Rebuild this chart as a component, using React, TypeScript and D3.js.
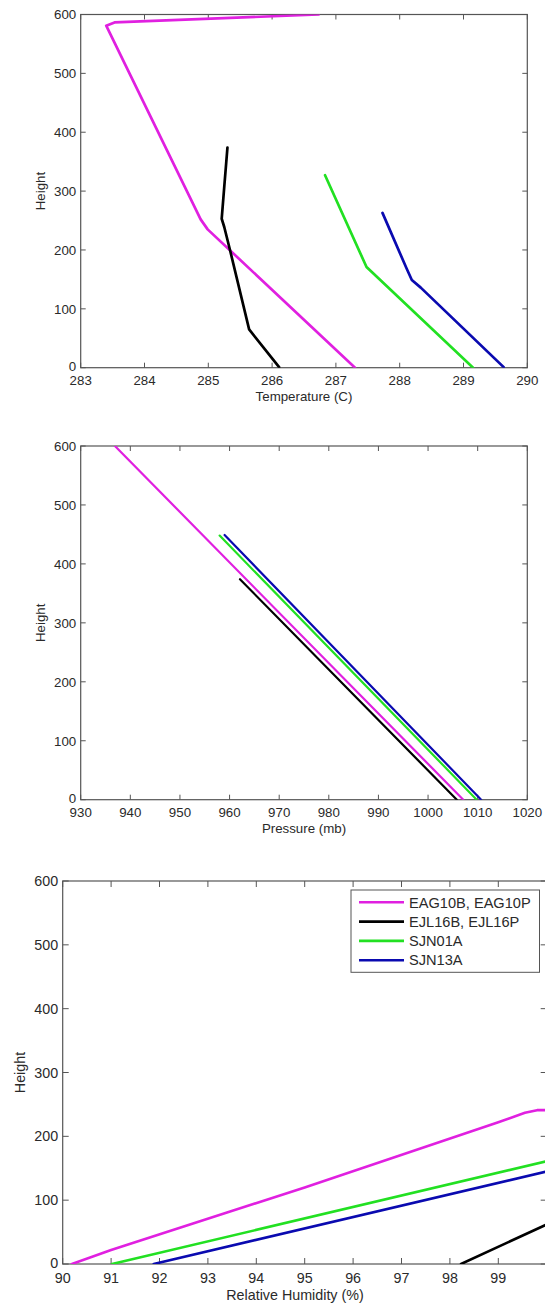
import React from "react";
import * as d3 from "d3";

// ---------- data ----------
const seriesNames = ["EAG10B, EAG10P", "EJL16B, EJL16P", "SJN01A", "SJN13A"];
const seriesColors = ["#e020e0", "#000000", "#22e022", "#0a0ab0"];

const heightTicks = [0, 100, 200, 300, 400, 500, 600];
const tempTicks = [283, 284, 285, 286, 287, 288, 289, 290];
const pressureTicks = [930, 940, 950, 960, 970, 980, 990, 1000, 1010, 1020];
const rhTicks = [90, 91, 92, 93, 94, 95, 96, 97, 98, 99];

// Temperature (C) vs Height
const tempEAG: [number, number][] = [[287.3, 0], [284.99, 235], [284.88, 252], [283.4, 581], [283.53, 586.5], [286.73, 600]];
const tempEJL: [number, number][] = [[286.11, 1], [285.64, 65], [285.34, 200], [285.25, 239], [285.21, 253], [285.25, 307], [285.28, 347], [285.3, 374]];
const tempSJN01: [number, number][] = [[289.15, 0], [287.48, 171], [286.83, 327]];
const tempSJN13: [number, number][] = [[289.63, 1], [288.33, 136], [288.19, 149], [288.11, 168], [287.73, 263]];

// Pressure (mb) vs Height
const presEAG: [number, number][] = [[1007.1, 0], [936.9, 600]];
const presEJL: [number, number][] = [[1005.8, 0], [962.1, 374]];
const presSJN01: [number, number][] = [[1009.8, 0], [958.0, 448]];
const presSJN13: [number, number][] = [[1010.7, 0], [959.0, 449]];

// Relative Humidity (%) vs Height
const rhEAG: [number, number][] = [[90.19, 0], [91, 22], [95, 120], [99, 222], [99.55, 237], [99.8, 241], [100, 241]];
const rhEJL: [number, number][] = [[98.23, 0], [100, 62]];
const rhSJN01: [number, number][] = [[91.02, 0], [100, 161]];
const rhSJN13: [number, number][] = [[91.88, 0], [100, 145]];

// ---------- layout ----------
type Panel = {
  left: number; right: number; top: number; bottom: number;
  xDomain: [number, number]; xTicks: number[]; xLabel: string;
  series: [number, number][][]; font: number; tick: number; lw: number;
  tickBase: number; labelBase: number; yLabelX: number; legend?: boolean;
};

const panels: Panel[] = [
  { left: 80.7, right: 527.3, top: 14.5, bottom: 367.7, xDomain: [283, 290], xTicks: tempTicks, xLabel: "Temperature (C)",
    series: [tempEAG, tempEJL, tempSJN01, tempSJN13], font: 13.3, tick: 5, lw: 2.7, tickBase: 17.5, labelBase: 33, yLabelX: 45 },
  { left: 80.7, right: 527.3, top: 446, bottom: 799.7, xDomain: [930, 1020], xTicks: pressureTicks, xLabel: "Pressure (mb)",
    series: [presEAG, presEJL, presSJN01, presSJN13], font: 13.3, tick: 5, lw: 2.2, tickBase: 17.5, labelBase: 33, yLabelX: 45 },
  { left: 62.7, right: 546.7, top: 881, bottom: 1264, xDomain: [90, 100], xTicks: rhTicks, xLabel: "Relative Humidity (%)",
    series: [rhEAG, rhEJL, rhSJN01, rhSJN13], font: 14.3, tick: 6, lw: 2.6, tickBase: 18.5, labelBase: 35.5, yLabelX: 25, legend: true },
];

const FONT = "Liberation Sans, Arial, Helvetica, sans-serif";
const AXIS = "#555";
const TXT = "#2a2a2a";

function PanelView({ p }: { p: Panel }) {
  const x = d3.scaleLinear().domain(p.xDomain).range([p.left, p.right]);
  const y = d3.scaleLinear().domain([0, 600]).range([p.bottom, p.top]);
  const line = d3.line<[number, number]>().x((d) => x(d[0])).y((d) => y(d[1]));
  const clipId = `clip-${Math.round(p.top)}`;
  return (
    <g>
      <defs>
        <clipPath id={clipId}>
          <rect x={p.left} y={p.top} width={p.right - p.left} height={p.bottom - p.top} />
        </clipPath>
      </defs>
      <rect x={p.left} y={p.top} width={p.right - p.left} height={p.bottom - p.top} fill="#fff" stroke={AXIS} strokeWidth={1.2} />
      {p.xTicks.map((t) => (
        <g key={"x" + t}>
          <line x1={x(t)} x2={x(t)} y1={p.bottom} y2={p.bottom - p.tick} stroke={AXIS} strokeWidth={1} />
          <line x1={x(t)} x2={x(t)} y1={p.top} y2={p.top + p.tick} stroke={AXIS} strokeWidth={1} />
          <text x={x(t)} y={p.bottom + p.tickBase} textAnchor="middle" fontSize={p.font} fontFamily={FONT} fill={TXT}>{t}</text>
        </g>
      ))}
      {heightTicks.map((t) => (
        <g key={"y" + t}>
          <line x1={p.left} x2={p.left + p.tick} y1={y(t)} y2={y(t)} stroke={AXIS} strokeWidth={1} />
          <line x1={p.right} x2={p.right - p.tick} y1={y(t)} y2={y(t)} stroke={AXIS} strokeWidth={1} />
          <text x={p.left - 4.5} y={y(t) - (t === 0 ? 1 : 0)} dy="0.36em" textAnchor="end" fontSize={p.font} fontFamily={FONT} fill={TXT}>{t}</text>
        </g>
      ))}
      <g clipPath={`url(#${clipId})`}>
        {p.series.map((s, i) => (
          <path key={i} d={line(s) || ""} fill="none" stroke={seriesColors[i]} strokeWidth={p.lw} strokeLinejoin="round" strokeLinecap="round" />
        ))}
      </g>
      <text x={p.legend ? (p.left + 527.3) / 2 : (p.left + p.right) / 2} y={p.bottom + p.labelBase} textAnchor="middle" fontSize={p.font} fontFamily={FONT} fill={TXT}>{p.xLabel}</text>
      <text transform={`translate(${p.yLabelX},${(p.top + p.bottom) / 2}) rotate(-90)`} textAnchor="middle" fontSize={p.font} fontFamily={FONT} fill={TXT}>Height</text>
      {p.legend && (
        <g>
          <rect x={351} y={890} width={188.5} height={82.3} fill="#fff" stroke={AXIS} strokeWidth={1} />
          {seriesNames.map((n, i) => (
            <g key={n}>
              <line x1={359} x2={404} y1={902.3 + i * 19.3} y2={902.3 + i * 19.3} stroke={seriesColors[i]} strokeWidth={2.6} />
              <text x={409} y={902.3 + i * 19.3} dy="0.36em" fontSize={14.6} fontFamily={FONT} fill={TXT}>{n}</text>
            </g>
          ))}
        </g>
      )}
    </g>
  );
}

export default function App() {
  return (
    <svg width={545} height={1308} style={{ position: "absolute", left: 0, top: 0, background: "#fff" }}>
      <rect x={0} y={0} width={545} height={1308} fill="#fff" />
      {panels.map((p, i) => (
        <PanelView key={i} p={p} />
      ))}
    </svg>
  );
}
